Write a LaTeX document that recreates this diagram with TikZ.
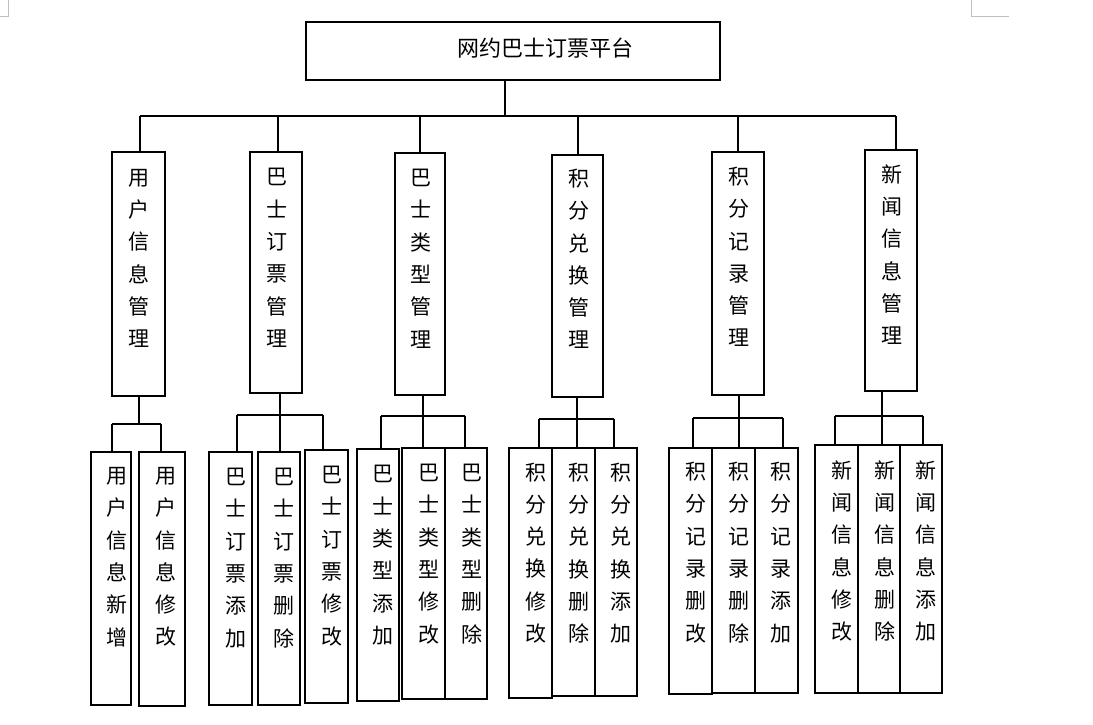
\documentclass[tikz,border=0pt]{standalone}
\usepackage{fontspec}
\newfontfamily\cjk{Noto Sans CJK SC}
\newcommand\mkbox[6]{\node[#1, minimum width={#5-#3}, minimum height={#6-#4}] (#2) at ({(#3+#5)/2},{(#4+#6)/2}) {};}
\newcommand\vtx[4]{\node[vt] (#1) at (#2,#3) {#4};}
\tikzset{
  rootbox/.style={draw, line width=2pt, inner sep=0pt, outer sep=0pt},
  midbox/.style={draw, line width=1.7pt, inner sep=0pt, outer sep=0pt},
  leafbox/.style={draw, line width=1.7pt, inner sep=0pt, outer sep=0pt},
  vt/.style={font=\cjk\fontsize{21}{32.3}\selectfont, align=center, inner sep=0pt},
  ttl/.style={font=\cjk\fontsize{22}{26}\selectfont, inner sep=0pt},
  conn/.style={line width=1.7pt},
  bar/.style={line width=2.2pt},
  cropmark/.style={line width=0.9pt, draw=black!25}
}
\begin{document}
\begin{tikzpicture}[x=1pt,y=-1pt]
\useasboundingbox (0,0) rectangle (1093,725);
\fill[white] (0,0) rectangle (1093,725);
% page corner marks
\draw[cropmark] (8.3,0) -- (8.3,16) -- (0,16);
\draw[cropmark] (971.3,0) -- (971.3,16) -- (1009,16);
% root
\mkbox{rootbox}{root}{306}{22.5}{720}{80.5}
\node[ttl] (title) at (545,48) {网约巴士订票平台};
% middle level boxes
\mkbox{midbox}{m1}{112}{152}{165}{396}
\mkbox{midbox}{m2}{250}{152}{302}{392.7}
\mkbox{midbox}{m3}{394.7}{152.7}{445}{395}
\mkbox{midbox}{m4}{551.7}{155}{603}{396.7}
\mkbox{midbox}{m5}{711.7}{152}{764}{395}
\mkbox{midbox}{m6}{865}{150}{916.7}{390.7}
\vtx{t1}{138.5}{258.5}{用\\户\\信\\息\\管\\理}
\vtx{t2}{276.7}{258}{巴\\士\\订\\票\\管\\理}
\vtx{t3}{421}{258.7}{巴\\士\\类\\型\\管\\理}
\vtx{t4}{579}{259}{积\\分\\兑\\换\\管\\理}
\vtx{t5}{739}{257}{积\\分\\记\\录\\管\\理}
\vtx{t6}{891.7}{254.5}{新\\闻\\信\\息\\管\\理}
% leaf boxes
\mkbox{leafbox}{l1a}{91}{451.7}{131}{705}
\mkbox{leafbox}{l1b}{139}{451.7}{185.3}{705.7}
\mkbox{leafbox}{l2a}{209}{451.7}{252.3}{705}
\mkbox{leafbox}{l2b}{257.7}{451.7}{300}{705}
\mkbox{leafbox}{l2c}{305}{449.7}{348}{702.7}
\mkbox{leafbox}{l3a}{356.7}{449}{399.3}{700.7}
\mkbox{leafbox}{l3b}{402}{448}{445.3}{699.3}
\mkbox{leafbox}{l3c}{445.3}{448}{487}{699.3}
\mkbox{leafbox}{l4a}{509}{448.3}{552.3}{697.7}
\mkbox{leafbox}{l4b}{552.3}{448.3}{595}{696}
\mkbox{leafbox}{l4c}{595}{448.3}{636.7}{696}
\mkbox{leafbox}{l5a}{669}{448}{712.3}{694.3}
\mkbox{leafbox}{l5b}{712.3}{448}{755.3}{693.3}
\mkbox{leafbox}{l5c}{755.3}{448}{798}{692.7}
\mkbox{leafbox}{l6a}{814.7}{445}{858}{692.7}
\mkbox{leafbox}{l6b}{858}{445}{900}{692.7}
\mkbox{leafbox}{l6c}{900}{445}{942}{692.7}
% leaf texts
\vtx{s1a}{116.7}{557}{用\\户\\信\\息\\新\\增}
\vtx{s1b}{166}{557}{用\\户\\信\\息\\修\\改}
\vtx{s2a}{236}{558}{巴\\士\\订\\票\\添\\加}
\vtx{s2b}{284}{558}{巴\\士\\订\\票\\删\\除}
\vtx{s2c}{331.7}{556}{巴\\士\\订\\票\\修\\改}
\vtx{s3a}{383.3}{555.3}{巴\\士\\类\\型\\添\\加}
\vtx{s3b}{429.3}{554}{巴\\士\\类\\型\\修\\改}
\vtx{s3c}{472.3}{554}{巴\\士\\类\\型\\删\\除}
\vtx{s4a}{536}{553}{积\\分\\兑\\换\\修\\改}
\vtx{s4b}{579}{553}{积\\分\\兑\\换\\删\\除}
\vtx{s4c}{621}{553}{积\\分\\兑\\换\\添\\加}
\vtx{s5a}{695.7}{552.5}{积\\分\\记\\录\\删\\改}
\vtx{s5b}{738.7}{552.5}{积\\分\\记\\录\\删\\除}
\vtx{s5c}{781}{552.5}{积\\分\\记\\录\\添\\加}
\vtx{s6a}{842}{551}{新\\闻\\信\\息\\修\\改}
\vtx{s6b}{885}{551}{新\\闻\\信\\息\\删\\除}
\vtx{s6c}{926}{551}{新\\闻\\信\\息\\添\\加}
% top level connectors
\coordinate (j0) at (505,116);
\coordinate (u1) at (140,116);
\coordinate (u2) at (278,116);
\coordinate (u3) at (420,116);
\coordinate (u4) at (578,116);
\coordinate (u5) at (738,116);
\coordinate (u6) at (896,116);
\draw[conn] (root.south -| j0) -- (j0);
\draw[bar] (u1) -- (u6);
\foreach \i in {1,...,6} {\draw[conn] (u\i) -- (u\i |- m\i.north);}
% group 1
\coordinate (g1) at (139,424);
\coordinate (g1a) at (112,424);
\coordinate (g1b) at (161,424);
\draw[conn] (m1.south -| g1) -- (g1);
\draw[conn] (g1a) -- (g1b);
\draw[conn] (g1a) -- (g1a |- l1a.north);
\draw[conn] (g1b) -- (g1b |- l1b.north);
% group 2
\coordinate (g2) at (280,415);
\coordinate (g2a) at (236.7,415);
\coordinate (g2c) at (322.7,415);
\draw[conn] (m2.south -| g2) -- (g2 |- l2b.north);
\draw[conn] (g2a) -- (g2c);
\draw[conn] (g2a) -- (g2a |- l2a.north);
\draw[conn] (g2c) -- (g2c |- l2c.north);
% group 3
\coordinate (g3) at (422.7,415.7);
\coordinate (g3a) at (381,415.7);
\coordinate (g3c) at (465,415.7);
\draw[conn] (m3.south -| g3) -- (g3 |- l3b.north);
\draw[conn] (g3a) -- (g3c);
\draw[conn] (g3a) -- (g3a |- l3a.north);
\draw[conn] (g3c) -- (g3c |- l3c.north);
% group 4
\coordinate (g4) at (577,419.3);
\coordinate (g4a) at (539,419.3);
\coordinate (g4c) at (614,419.3);
\draw[conn] (m4.south -| g4) -- (g4 |- l4b.north);
\draw[conn] (g4a) -- (g4c);
\draw[conn] (g4a) -- (g4a |- l4a.north);
\draw[conn] (g4c) -- (g4c |- l4c.north);
% group 5
\coordinate (g5) at (739,418.3);
\coordinate (g5a) at (693.3,418.3);
\coordinate (g5c) at (783,418.3);
\draw[conn] (m5.south -| g5) -- (g5 |- l5b.north);
\draw[conn] (g5a) -- (g5c);
\draw[conn] (g5a) -- (g5a |- l5a.north);
\draw[conn] (g5c) -- (g5c |- l5c.north);
% group 6
\coordinate (g6) at (881.7,415.7);
\coordinate (g6a) at (835.3,415.7);
\coordinate (g6c) at (923.3,415.7);
\draw[conn] (m6.south -| g6) -- (g6 |- l6b.north);
\draw[conn] (g6a) -- (g6c);
\draw[conn] (g6a) -- (g6a |- l6a.north);
\draw[conn] (g6c) -- (g6c |- l6c.north);
\end{tikzpicture}
\end{document}
